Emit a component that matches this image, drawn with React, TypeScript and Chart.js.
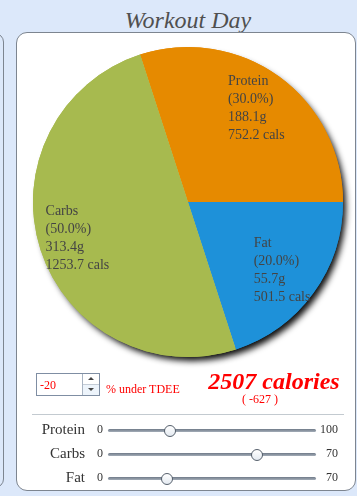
import React, { useEffect, useRef } from "react";
import { Chart, registerables } from "chart.js";
Chart.register(...registerables);

const categories = ["Protein", "Fat", "Carbs"];
const percents = [30, 20, 50];
const grams = [188.1, 55.7, 313.4];
const calories = [752.2, 501.5, 1253.7];
const sliceColors = ["#E68A00", "#1E91D9", "#A7BA4F"];

const sliderLabels = ["Protein", "Carbs", "Fat"];
const sliderValues = [30, 50, 20];
const sliderMax = [100, 70, 70];

const tdeePercent = -20;
const totalCalories = 2507;
const calorieDiff = -627;
const title = "Workout Day";

const SERIF = '"Liberation Serif", "Times New Roman", serif';

const shadowPlugin = {
  id: "pieShadow",
  beforeDatasetsDraw(chart: any) {
    const meta = chart.getDatasetMeta(0);
    const arc = meta.data[0];
    if (!arc) return;
    const p = arc.getProps(["x", "y", "outerRadius"], true);
    const ctx = chart.ctx;
    ctx.save();
    ctx.beginPath();
    ctx.rect(0, 0, chart.width, chart.height);
    ctx.arc(p.x, p.y, p.outerRadius - 1.5, 0, Math.PI * 2, true);
    ctx.clip("evenodd");
    ctx.shadowColor = "rgba(0,0,0,0.95)";
    ctx.shadowBlur = 6;
    ctx.shadowOffsetX = 4;
    ctx.shadowOffsetY = 5;
    ctx.beginPath();
    ctx.arc(p.x, p.y, p.outerRadius - 1, 0, Math.PI * 2);
    ctx.fillStyle = "#000";
    ctx.fill();
    ctx.restore();
    // pre-draw slices once so the seams between them are fully covered
    meta.data.forEach((el: any) => el.draw(ctx, chart.chartArea));
  },
};

const labelPlugin = {
  id: "sliceLabels",
  afterDatasetsDraw(chart: any) {
    const meta = chart.getDatasetMeta(0);
    const ctx = chart.ctx;
    ctx.save();
    ctx.font = `14px ${SERIF}`;
    ctx.fillStyle = "#444";
    ctx.textBaseline = "middle";
    ctx.textAlign = "left";
    meta.data.forEach((el: any, i: number) => {
      const p = el.getProps(["x", "y", "startAngle", "endAngle", "outerRadius"], true);
      const mid = (p.startAngle + p.endAngle) / 2;
      const r = p.outerRadius * 0.75;
      const cx = p.x + Math.cos(mid) * r;
      const cy = p.y + Math.sin(mid) * r;
      const lines = [
        categories[i],
        `(${percents[i].toFixed(1)}%)`,
        `${grams[i].toFixed(1)}g`,
        `${calories[i].toFixed(1)} cals`,
      ];
      const w = Math.max(...lines.map((l) => ctx.measureText(l).width));
      const lh = 18;
      const top = cy - (lh * lines.length) / 2;
      lines.forEach((l, j) => ctx.fillText(l, cx - w / 2, top + lh * (j + 0.5)));
    });
    ctx.restore();
  },
};

function PieChart() {
  const ref = useRef<HTMLCanvasElement | null>(null);
  useEffect(() => {
    if (!ref.current) return;
    const chart = new Chart(ref.current, {
      type: "pie",
      data: {
        labels: categories,
        datasets: [{ data: percents, backgroundColor: sliceColors, borderWidth: 0 }],
      },
      options: {
        responsive: false,
        animation: false,
        devicePixelRatio: 1,
        rotation: -18,
        layout: { padding: { left: 17, right: 13, top: 15, bottom: 15 } },
        plugins: { legend: { display: false }, tooltip: { enabled: false } },
      } as any,
      plugins: [shadowPlugin, labelPlugin],
    });
    return () => chart.destroy();
  }, []);
  return (
    <canvas
      ref={ref}
      width={340}
      height={340}
      style={{ position: "absolute", left: 16, top: 32, width: 340, height: 340 }}
    />
  );
}

const TRACK_L = 108;
const TRACK_W = 208;

export default function App() {
  const abs = (s: any) => ({ position: "absolute" as const, ...s });
  return (
    <div style={{ position: "relative", width: 357, height: 496, overflow: "hidden", background: "#dce8fa" }}>
      <style>{`html,body{margin:0;padding:0;background:#dce8fa;overflow:hidden}`}</style>
      {/* left partial panel */}
      <div
        style={abs({
          left: -20,
          top: 33,
          width: 24,
          height: 455,
          border: "1px solid #7d8590",
          borderRadius: 9,
          boxSizing: "border-box",
          background: "#dce8fa",
        })}
      />
      {/* title */}
      <div
        style={abs({
          left: 88,
          top: 8,
          width: 200,
          textAlign: "center",
          font: `italic 24px/24px ${SERIF}`,
          color: "#505050",
        })}
      >
        {title}
      </div>
      {/* main panel */}
      <div
        style={abs({
          left: 16,
          top: 32,
          width: 340,
          height: 459,
          border: "1px solid #7d8590",
          borderRadius: 11,
          boxSizing: "border-box",
          background: "#fff",
        })}
      />
      <PieChart />
      {/* spinner input */}
      <div
        style={abs({
          left: 36,
          top: 373,
          width: 64,
          height: 23,
          border: "1px solid #7f8ea3",
          boxSizing: "border-box",
          background: "#fff",
        })}
      >
        <div style={abs({ left: 3, top: 5, font: `12px/12px ${SERIF}`, color: "#f00" })}>{tdeePercent}</div>
        <div style={abs({ left: 45, top: 0, width: 1, height: 21, background: "#a9b4c2" })} />
        <div style={abs({ left: 46, top: 10, width: 16, height: 1, background: "#c4ccd6" })} />
        <div style={abs({ left: 46, top: 11, width: 16, height: 10, background: "#edf4fb" })} />
        <div
          style={abs({
            left: 51,
            top: 3,
            width: 0,
            height: 0,
            borderLeft: "3px solid transparent",
            borderRight: "3px solid transparent",
            borderBottom: "3px solid #444",
          })}
        />
        <div
          style={abs({
            left: 51,
            top: 14,
            width: 0,
            height: 0,
            borderLeft: "3px solid transparent",
            borderRight: "3px solid transparent",
            borderTop: "3px solid #444",
          })}
        />
      </div>
      <div style={abs({ left: 106, top: 383, font: `12px/12px ${SERIF}`, color: "#f00", whiteSpace: "nowrap" })}>
        % under TDEE
      </div>
      <div
        style={abs({
          left: 174,
          top: 369,
          width: 200,
          textAlign: "center",
          font: `italic bold 24px/24px ${SERIF}`,
          color: "#f00",
          whiteSpace: "nowrap",
        })}
      >
        {totalCalories} calories
      </div>
      <div style={abs({ left: 242, top: 393, font: `12px/12px ${SERIF}`, color: "#f00", whiteSpace: "nowrap" })}>
        ( {calorieDiff} )
      </div>
      {/* separator */}
      <div style={abs({ left: 32, top: 414, width: 312, height: 1, background: "#c3cad0" })} />
      {/* sliders */}
      {sliderLabels.map((lab, i) => {
        const cy = 430 + i * 24;
        const hx = TRACK_L + (sliderValues[i] / sliderMax[i]) * TRACK_W;
        return (
          <React.Fragment key={lab}>
            <div
              style={abs({
                left: 0,
                width: 85,
                top: cy - 8,
                textAlign: "right",
                font: `15px/15px ${SERIF}`,
                color: "#333",
              })}
            >
              {lab}
            </div>
            <div style={abs({ left: 97, top: cy - 7, font: `12px/12px ${SERIF}`, color: "#333" })}>0</div>
            <div
              style={abs({
                left: 298,
                width: 40,
                top: cy - 7,
                textAlign: "right",
                font: `12px/12px ${SERIF}`,
                color: "#333",
              })}
            >
              {sliderMax[i]}
            </div>
            <div
              style={abs({
                left: TRACK_L,
                top: cy - 1,
                width: TRACK_W,
                height: 3,
                borderRadius: 2,
                background: "linear-gradient(#6f7a88, #a4adb8)",
              })}
            />
            <div
              style={abs({
                left: hx - 6,
                top: cy - 5,
                width: 12,
                height: 12,
                borderRadius: 6,
                border: "1px solid #56606c",
                boxSizing: "border-box",
                background: "linear-gradient(#ffffff, #e4eaf1)",
              })}
            />
          </React.Fragment>
        );
      })}
    </div>
  );
}
